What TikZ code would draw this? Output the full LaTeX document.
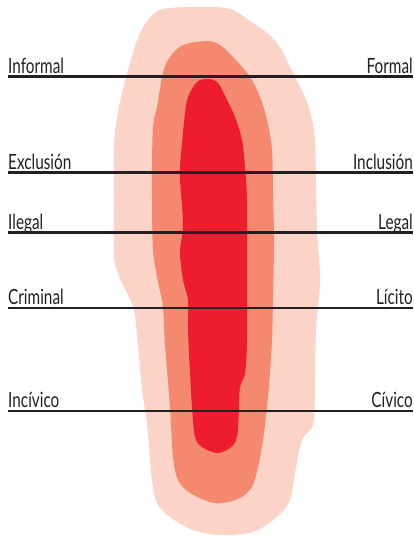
\documentclass[tikz,border=0pt]{standalone}
\usepackage{fontspec}
\setmainfont[FakeStretch=0.73]{Lato}
\definecolor{outerc}{HTML}{FCD4C7}
\definecolor{midc}{HTML}{F5896F}
\definecolor{innerc}{HTML}{ED1C2E}
\definecolor{darkc}{HTML}{231F20}
\tikzset{
  lbl/.style={font=\fontsize{21}{21}\selectfont, inner sep=0pt, text=darkc},
  rule/.style={line width=2.7pt, draw=darkc},
  blob/.style={smooth cycle, tension=0.55}
}
\begin{document}
\begin{tikzpicture}[x=1pt,y=-1pt]
\useasboundingbox (0,0) rectangle (414,537);
% outer
\fill[outerc] plot[blob] coordinates {
 (200,7) (230,9) (253,23) (267,33) (280,47) (293,73) (305,97) (312,120) (315,140)
 (316,180) (317,230) (320,280) (316,330) (315,390) (313,425) (302,440) (295,473)
 (290,500) (277,517) (253,532) (220,535) (193,530) (170,517) (157,503) (152,480)
 (147,423) (142,390) (138,345) (134,310) (126,291) (118,273) (114,255) (114,200)
 (114,145) (118,112) (124,85) (131,60) (138,38) (148,20) (163,9)};
% middle
\fill[midc] plot[blob] coordinates {
 (207,41) (220,45) (233,57) (250,77) (260,97) (267,120) (272,150) (273,193)
 (274,240) (273,300) (272,340) (270,373) (267,407) (263,440) (258,467) (252,487)
 (240,498) (223,503) (210,502) (190,493) (178,480) (173,457) (170,407) (165,345)
 (163,307) (158,282) (153,250) (152,200) (152,167) (153,127) (157,107) (163,73)
 (170,57) (183,45)};
% inner
\fill[innerc] plot[blob] coordinates {
 (208,79) (218,83) (227,100) (235,117) (242,140) (245,167) (247,200) (247,260)
 (247,340) (245,373) (240,387) (239,407) (237,437) (230,448) (217,453) (202,447)
 (195,437) (192,407) (190,373) (188,330) (188,300) (183,280) (180,252) (183,225)
 (180,180) (180,167) (182,143) (185,113) (188,97) (197,82)};
% rules
\coordinate (l1a) at (8,76.5);  \coordinate (l1b) at (413,76.5);
\coordinate (l2a) at (8,172.5); \coordinate (l2b) at (413,172.5);
\coordinate (l3a) at (8,232.3); \coordinate (l3b) at (413,232.3);
\coordinate (l4a) at (8,308);   \coordinate (l4b) at (413,308);
\coordinate (l5a) at (8,411);   \coordinate (l5b) at (413,411);
\foreach \i in {1,...,5} {\draw[rule] (l\i a) -- (l\i b);}
% labels
\node[lbl, anchor=base west] (informal) at (8,73.3) {Informal};
\node[lbl, anchor=base east] (formal) at (413,73.3) {Formal};
\node[lbl, anchor=base west] (exclusion) at (8,169.3) {Exclusión};
\node[lbl, anchor=base east] (inclusion) at (413,169.3) {Inclusión};
\node[lbl, anchor=base west] (ilegal) at (8,229.1) {Ilegal};
\node[lbl, anchor=base east] (legal) at (413,229.1) {Legal};
\node[lbl, anchor=base west] (criminal) at (8,304.8) {Criminal};
\node[lbl, anchor=base east] (licito) at (413,304.8) {Lícito};
\node[lbl, anchor=base west] (incivico) at (8,407.8) {Incívico};
\node[lbl, anchor=base east] (civico) at (413,407.8) {Cívico};
\end{tikzpicture}
\end{document}
